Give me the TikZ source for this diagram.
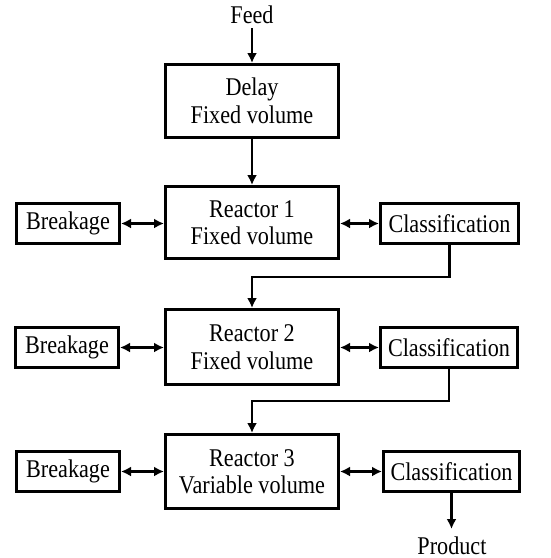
\documentclass[tikz,border=0pt]{standalone}
\usepackage{fontspec}
\setmainfont{Liberation Serif}[FakeStretch=0.87]
\usetikzlibrary{arrows.meta}
\begin{document}
\begin{tikzpicture}[x=1pt,y=-1pt,
  plain/.style={font=\fontsize{25.5}{27.5}\selectfont, inner sep=0pt},
  txt/.style={plain, align=center},
  blk/.style={txt, draw, line width=3pt, minimum width=173pt},
  side/.style={txt, draw, line width=3pt, minimum height=40pt},
  arr/.style={line width=2.2pt, -{Latex[length=10pt,width=10pt]}},
  darr/.style={line width=2.2pt, {Latex[length=10pt,width=10pt]}-{Latex[length=10pt,width=10pt]}}]
\useasboundingbox (0,0) rectangle (551,558);
\node[plain] (feed) at (252,15) {Feed};
\node[blk, minimum height=73pt] (delay) at (252,101) {Delay\\Fixed volume};
\node[blk, minimum height=72pt] (r1) at (252,222.5) {Reactor 1\\Fixed volume};
\node[side, minimum width=103pt] (b1) at (68,223.5) {Breakage};
\node[side, minimum width=138pt] (c1) at (449.5,223.5) {Classification};
\node[blk, minimum height=75pt] (r2) at (252,347) {Reactor 2\\Fixed volume};
\node[side, minimum width=103pt] (b2) at (67,347.5) {Breakage};
\node[side, minimum width=137pt] (c2) at (449,347.5) {Classification};
\node[blk, minimum height=74pt] (r3) at (252,471.5) {Reactor 3\\Variable volume};
\node[side, minimum width=103pt] (b3) at (68,471.5) {Breakage};
\node[side, minimum width=136pt] (c3) at (451.5,471.5) {Classification};
\node[plain, anchor=base] (prod) at (452,554) {Product};
\coordinate (fs) at (252,28);
\coordinate (k1) at (252,277);
\coordinate (k2) at (252,401);
\coordinate (pe) at (451.5,529);
\draw[arr] (fs) -- (delay.north);
\draw[arr] (delay.south) -- (r1.north);
\draw[darr] (b1.east) -- (b1.east -| r1.west);
\draw[darr] (r1.east |- c1.west) -- (c1.west);
\draw[darr] (b2.east) -- (b2.east -| r2.west);
\draw[darr] (r2.east |- c2.west) -- (c2.west);
\draw[darr] (b3.east) -- (b3.east -| r3.west);
\draw[darr] (r3.east |- c3.west) -- (c3.west);
\draw[arr] (c1.south) |- (k1) -- (r2.north);
\draw[arr] (c2.south) |- (k2) -- (r3.north);
\draw[arr] (c3.south) -- (pe);
\end{tikzpicture}
\end{document}
